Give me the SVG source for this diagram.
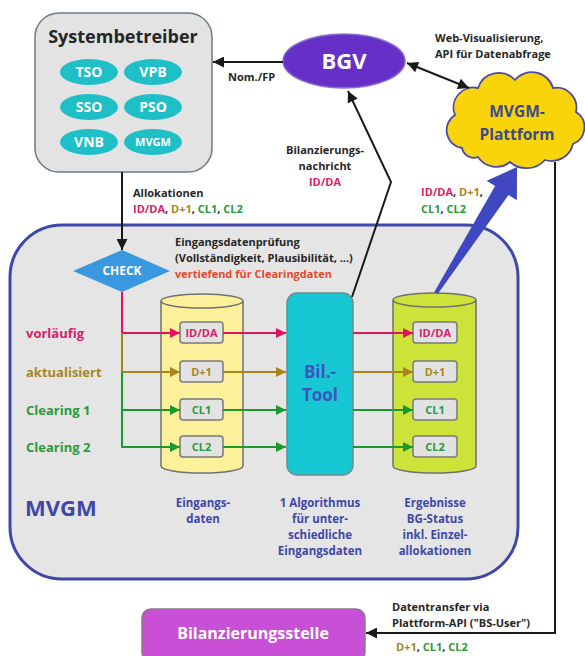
<svg xmlns="http://www.w3.org/2000/svg" width="585" height="656" viewBox="0 0 585 656">
<style>
text{font-family:"Open Sans","Noto Sans","Liberation Sans",sans-serif;font-weight:bold}
.dk{fill:#262626;font-size:11px}
.pk{fill:#d61f6a}
.ol{fill:#a8861c}
.gr{fill:#2a9a3a}
.wt{fill:#fff}
.bl{fill:#3f48a8}
.box{fill:#e2e2e2;stroke:#7a7a7a;stroke-width:1.5}
.bt{font-size:11px;text-anchor:middle}
.lbl{font-size:13px}
.cap{fill:#3f48a8;font-size:11.5px;text-anchor:middle}
.blk{stroke:#1a1a1a;stroke-width:2;fill:none}
.oval{fill:#1fbfc8}
.ot{fill:#fff;font-size:14px;text-anchor:middle}
</style>
<defs>
<marker id="ab" viewBox="0 0 10 10" refX="10" refY="5" markerWidth="12" markerHeight="11" markerUnits="userSpaceOnUse" orient="auto-start-reverse"><path d="M0,0L10,5L0,10z" fill="#1a1a1a"/></marker>
<marker id="ap" viewBox="0 0 10 10" refX="10" refY="5" markerWidth="11" markerHeight="10" markerUnits="userSpaceOnUse" orient="auto"><path d="M0,0L10,5L0,10z" fill="#e0145e"/></marker>
<marker id="ao" viewBox="0 0 10 10" refX="10" refY="5" markerWidth="11" markerHeight="10" markerUnits="userSpaceOnUse" orient="auto"><path d="M0,0L10,5L0,10z" fill="#a8841a"/></marker>
<marker id="ag" viewBox="0 0 10 10" refX="10" refY="5" markerWidth="11" markerHeight="10" markerUnits="userSpaceOnUse" orient="auto"><path d="M0,0L10,5L0,10z" fill="#1a9a2a"/></marker>
</defs>
<rect width="585" height="656" fill="#fff"/>

<g id="mvgm">
<rect x="10" y="225" width="508" height="354" rx="52" fill="#e5e5e5" stroke="#3f48a8" stroke-width="3"/>
<text x="25" y="516" class="bl" style="font-size:22px">MVGM</text>
</g>

<g id="systembetreiber">
<rect x="35" y="13" width="177" height="159" rx="24" fill="#e3e3e3" stroke="#6e7c82" stroke-width="1.5"/>
<text x="123" y="43" style="font-size:18px;fill:#262626;text-anchor:middle">Systembetreiber</text>
<ellipse class="oval" cx="89" cy="72" rx="29" ry="13"/><text class="ot" x="89" y="77">TSO</text>
<ellipse class="oval" cx="153" cy="72" rx="29" ry="13"/><text class="ot" x="153" y="77">VPB</text>
<ellipse class="oval" cx="89" cy="107" rx="29" ry="13"/><text class="ot" x="89" y="112">SSO</text>
<ellipse class="oval" cx="153" cy="107" rx="29" ry="13"/><text class="ot" x="153" y="112">PSO</text>
<ellipse class="oval" cx="89" cy="142" rx="29" ry="13"/><text class="ot" x="89" y="147">VNB</text>
<ellipse class="oval" cx="153" cy="142" rx="29" ry="13"/><text class="ot" x="153" y="146" style="font-size:11px">MVGM</text>
</g>

<g id="bgv">
<ellipse cx="344" cy="61" rx="61" ry="27" fill="#6630c8" stroke="#8c70d0" stroke-width="1.5"/>
<text x="344" y="69" class="wt" style="font-size:22px;text-anchor:middle">BGV</text>
</g>

<g id="plattform">
<path d="M462,148 A18,18 0 0 1 455,115 A20,20 0 0 1 478,88 A22,22 0 0 1 515,80 A22,22 0 0 1 553,88 A20,20 0 0 1 576,112 A18,18 0 0 1 573,144 A22,22 0 0 1 545,160 A25,25 0 0 1 510,162 A22,22 0 0 1 478,157 A12,12 0 0 1 462,148 Z" fill="#f9d40a" stroke="#4a4aa8" stroke-width="1.8"/>
<text x="517" y="117" style="font-size:15.5px;fill:#3d4a8a;text-anchor:middle">MVGM-</text>
<text x="517" y="140" style="font-size:15.5px;fill:#3d4a8a;text-anchor:middle">Plattform</text>
</g>

<g id="check">
<polygon points="73,271 122,250 170,271 122,292" fill="#3a98e0"/>
<text x="122" y="275" class="wt" style="font-size:12px;text-anchor:middle">CHECK</text>
</g>

<g id="eingangsdaten">
<path d="M161,301 V466 A41,7 0 0 0 243,466 V301" fill="#fdf09a" stroke="#707070" stroke-width="1.5"/>
<ellipse cx="202" cy="301" rx="41" ry="7" fill="#fdf09a" stroke="#707070" stroke-width="1.5"/>
<rect class="box" x="180" y="322" width="43" height="21" rx="3"/><text class="bt pk" x="201.5" y="337">ID/DA</text>
<rect class="box" x="180" y="361" width="43" height="21" rx="3"/><text class="bt ol" x="201.5" y="376">D+1</text>
<rect class="box" x="180" y="399" width="43" height="21" rx="3"/><text class="bt gr" x="201.5" y="414">CL1</text>
<rect class="box" x="180" y="436" width="43" height="21" rx="3"/><text class="bt gr" x="201.5" y="451">CL2</text>
</g>

<g id="biltool">
<rect x="287" y="293" width="66" height="182" rx="10" fill="#17c8d4" stroke="#6e8c90" stroke-width="1.5"/>
<text x="320" y="378" style="font-size:17px;fill:#3d55c0;text-anchor:middle">Bil.-</text>
<text x="320" y="401" style="font-size:17px;fill:#3d55c0;text-anchor:middle">Tool</text>
</g>

<g id="ergebnisse">
<path d="M393,300 V466 A41.5,7 0 0 0 476,466 V300" fill="#cde33a" stroke="#707070" stroke-width="1.5"/>
<ellipse cx="434.5" cy="300" rx="41.5" ry="7" fill="#cde33a" stroke="#707070" stroke-width="1.5"/>
<rect class="box" x="413" y="322" width="44" height="21" rx="3"/><text class="bt pk" x="435" y="337">ID/DA</text>
<rect class="box" x="413" y="361" width="44" height="21" rx="3"/><text class="bt ol" x="435" y="376">D+1</text>
<rect class="box" x="413" y="399" width="44" height="21" rx="3"/><text class="bt gr" x="435" y="414">CL1</text>
<rect class="box" x="413" y="436" width="44" height="21" rx="3"/><text class="bt gr" x="435" y="451">CL2</text>
</g>

<g id="bilanzierungsstelle">
<rect x="142" y="609" width="223" height="52" rx="9" fill="#c94fd6" stroke="#8a7a90" stroke-width="1.5"/>
<text x="253" y="639" class="wt" style="font-size:16px;text-anchor:middle">Bilanzierungsstelle</text>
</g>

<g id="connectors">
<line class="blk" x1="283" y1="62" x2="213" y2="62" marker-end="url(#ab)"/>
<line class="blk" x1="122" y1="172" x2="122" y2="250" marker-end="url(#ab)"/>
<polyline class="blk" points="352,297 391,182 348,91" marker-end="url(#ab)"/>
<line class="blk" x1="407" y1="63" x2="469" y2="88" marker-start="url(#ab)" marker-end="url(#ab)"/>
<polyline class="blk" points="555,162 555,633 366,633" marker-end="url(#ab)"/>
<polygon points="434.3,291.9 437.7,294.1 508.5,194.9 516.9,200.3 517,167 486.7,180.7 495.1,186.1" fill="#3f48c0"/>
<polyline points="122,292 122,333 180,333" fill="none" stroke="#e0145e" stroke-width="2" marker-end="url(#ap)"/>
<polyline points="122,333 122,372 180,372" fill="none" stroke="#a8841a" stroke-width="2" marker-end="url(#ao)"/>
<polyline points="122,372 122,447 180,447" fill="none" stroke="#1a9a2a" stroke-width="2" marker-end="url(#ag)"/>
<line x1="122" y1="410" x2="180" y2="410" stroke="#1a9a2a" stroke-width="2" marker-end="url(#ag)"/>
<line x1="223" y1="333" x2="286" y2="333" stroke="#e0145e" stroke-width="2" marker-end="url(#ap)"/>
<line x1="223" y1="372" x2="286" y2="372" stroke="#a8841a" stroke-width="2" marker-end="url(#ao)"/>
<line x1="223" y1="410" x2="286" y2="410" stroke="#1a9a2a" stroke-width="2" marker-end="url(#ag)"/>
<line x1="223" y1="447" x2="286" y2="447" stroke="#1a9a2a" stroke-width="2" marker-end="url(#ag)"/>
<line x1="353" y1="333" x2="413" y2="333" stroke="#e0145e" stroke-width="2" marker-end="url(#ap)"/>
<line x1="353" y1="372" x2="413" y2="372" stroke="#a8841a" stroke-width="2" marker-end="url(#ao)"/>
<line x1="353" y1="410" x2="413" y2="410" stroke="#1a9a2a" stroke-width="2" marker-end="url(#ag)"/>
<line x1="353" y1="447" x2="413" y2="447" stroke="#1a9a2a" stroke-width="2" marker-end="url(#ag)"/>
</g>

<g id="labels">
<text x="228" y="81" class="dk">Nom./FP</text>
<text x="133" y="197" class="dk">Allokationen</text>
<text x="133" y="213" style="font-size:11px"><tspan class="pk">ID/DA</tspan><tspan fill="#262626">, </tspan><tspan class="ol">D+1</tspan><tspan fill="#262626">, </tspan><tspan class="gr">CL1</tspan><tspan fill="#262626">, </tspan><tspan class="gr">CL2</tspan></text>
<text x="325" y="154" class="dk" text-anchor="middle">Bilanzierungs-</text>
<text x="325" y="170" class="dk" text-anchor="middle">nachricht</text>
<text x="325" y="186" class="pk" style="font-size:11px" text-anchor="middle">ID/DA</text>
<text x="435" y="42" class="dk">Web-Visualisierung,</text>
<text x="435" y="58" class="dk">API für Datenabfrage</text>
<text x="421" y="196" style="font-size:11px"><tspan class="pk">ID/DA</tspan><tspan fill="#262626">, </tspan><tspan class="ol">D+1</tspan><tspan fill="#262626">,</tspan></text>
<text x="421" y="213" style="font-size:11px"><tspan class="gr">CL1</tspan><tspan fill="#262626">, </tspan><tspan class="gr">CL2</tspan></text>
<text x="175" y="246" class="dk">Eingangsdatenprüfung</text>
<text x="175" y="262" class="dk">(Vollständigkeit, Plausibilität, ...)</text>
<text x="175" y="278" style="font-size:11px;fill:#e8472a">vertiefend für Clearingdaten</text>
<text x="26" y="338" class="lbl pk">vorläufig</text>
<text x="26" y="377" class="lbl ol">aktualisiert</text>
<text x="26" y="415" class="lbl gr">Clearing 1</text>
<text x="26" y="452" class="lbl gr">Clearing 2</text>
<text class="cap" x="203" y="507">Eingangs-</text>
<text class="cap" x="203" y="523">daten</text>
<text class="cap" x="320" y="507">1 Algorithmus</text>
<text class="cap" x="320" y="523">für unter-</text>
<text class="cap" x="320" y="539">schiedliche</text>
<text class="cap" x="320" y="555">Eingangsdaten</text>
<text class="cap" x="435" y="507">Ergebnisse</text>
<text class="cap" x="435" y="523">BG-Status</text>
<text class="cap" x="435" y="539">inkl. Einzel-</text>
<text class="cap" x="435" y="555">allokationen</text>
<text x="392" y="611" class="dk">Datentransfer via</text>
<text x="392" y="627" class="dk">Plattform-API ("BS-User")</text>
<text x="396" y="651" style="font-size:11px"><tspan class="ol">D+1</tspan><tspan fill="#262626">, </tspan><tspan class="gr">CL1</tspan><tspan fill="#262626">, </tspan><tspan class="gr">CL2</tspan></text>
</g>
</svg>
